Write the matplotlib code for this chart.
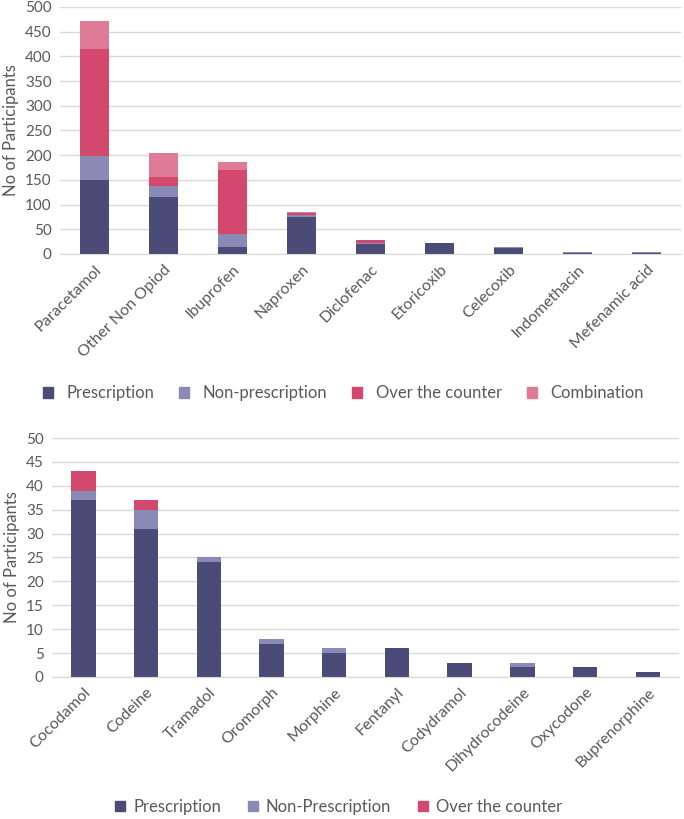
import matplotlib.pyplot as plt
import numpy as np
from matplotlib.patches import Patch

plt.rcParams['font.family'] = ['Lato', 'DejaVu Sans']

# top chart: non-opioids
non_opioids = ['Paracetamol', 'Other Non Opiod', 'Ibuprofen', 'Naproxen', 'Diclofenac',
               'Etoricoxib', 'Celecoxib', 'Indomethacin', 'Mefenamic acid']
top_prescription = [150, 116, 14, 74, 20, 22, 12, 2, 2]
top_nonprescription = [48, 22, 26, 5, 3, 1, 1, 2, 2]
top_otc = [217, 18, 130, 4, 6, 0, 0, 0, 0]
top_combination = [57, 48, 17, 2, 0, 0, 0, 0, 0]

# bottom chart: opioids
opioids = ['Cocodamol', 'Codeine', 'Tramadol', 'Oromorph', 'Morphine', 'Fentanyl',
           'Codydramol', 'Dihydrocodeine', 'Oxycodone', 'Buprenorphine']
bot_prescription = [37, 31, 24, 7, 5, 6, 3, 2, 2, 1]
bot_nonprescription = [2, 4, 1, 1, 1, 0, 0, 1, 0, 0]
bot_otc = [4, 2, 0, 0, 0, 0, 0, 0, 0, 0]

c_pres = '#4b4b77'
c_non = '#8a8ab6'
c_otc = '#d3486f'
c_comb = '#e07b97'
txt = '#595959'
grid = '#d9d9d9'

fig = plt.figure(figsize=(6.84, 8.19), dpi=100)


def style(ax, labels, ymax, step):
    ax.set_ylim(0, ymax)
    ax.set_yticks(np.arange(0, ymax + 1, step))
    ax.set_xticks(range(len(labels)))
    ax.set_xticklabels(labels, rotation=45, ha='right', rotation_mode='anchor',
                       fontsize=11.5, color=txt)
    ax.tick_params(axis='y', labelsize=11, colors=txt, length=0, pad=6)
    ax.tick_params(axis='x', length=0, pad=6)
    ax.yaxis.grid(True, color=grid, lw=1)
    ax.set_axisbelow(True)
    for s in ['top', 'right', 'left']:
        ax.spines[s].set_visible(False)
    ax.spines['bottom'].set_color(grid)
    ax.set_xlim(-0.5, len(labels) - 0.5)
    ax.set_ylabel('No of Participants', fontsize=12, color=txt, labelpad=4)


ax1 = fig.add_axes([0.0877, 0.69, 0.908, 0.3015])
x = np.arange(len(non_opioids))
w = 0.41
b = np.zeros(len(x))
for vals, c in [(top_prescription, c_pres), (top_nonprescription, c_non),
                (top_otc, c_otc), (top_combination, c_comb)]:
    ax1.bar(x, vals, w, bottom=b, color=c)
    b += np.array(vals)
style(ax1, non_opioids, 500, 50)

fig.legend(handles=[Patch(color=c_pres, label='Prescription'),
                    Patch(color=c_non, label='Non-prescription'),
                    Patch(color=c_otc, label='Over the counter'),
                    Patch(color=c_comb, label='Combination')],
           loc='center', bbox_to_anchor=(0.502, 0.52), ncol=4, frameon=False,
           fontsize=12, labelcolor=txt, handlelength=0.6, handleheight=0.6,
           columnspacing=1.5, handletextpad=0.8)

ax2 = fig.add_axes([0.076, 0.1734, 0.917, 0.2918])
x = np.arange(len(opioids))
w = 0.39
b = np.zeros(len(x))
for vals, c in [(bot_prescription, c_pres), (bot_nonprescription, c_non), (bot_otc, c_otc)]:
    ax2.bar(x, vals, w, bottom=b, color=c)
    b += np.array(vals)
style(ax2, opioids, 50, 5)

fig.legend(handles=[Patch(color=c_pres, label='Prescription'),
                    Patch(color=c_non, label='Non-Prescription'),
                    Patch(color=c_otc, label='Over the counter')],
           loc='center', bbox_to_anchor=(0.495, 0.0147), ncol=3, frameon=False,
           fontsize=12, labelcolor=txt, handlelength=0.6, handleheight=0.6,
           columnspacing=1.6, handletextpad=0.5)

fig.savefig('out.png', dpi=100)
